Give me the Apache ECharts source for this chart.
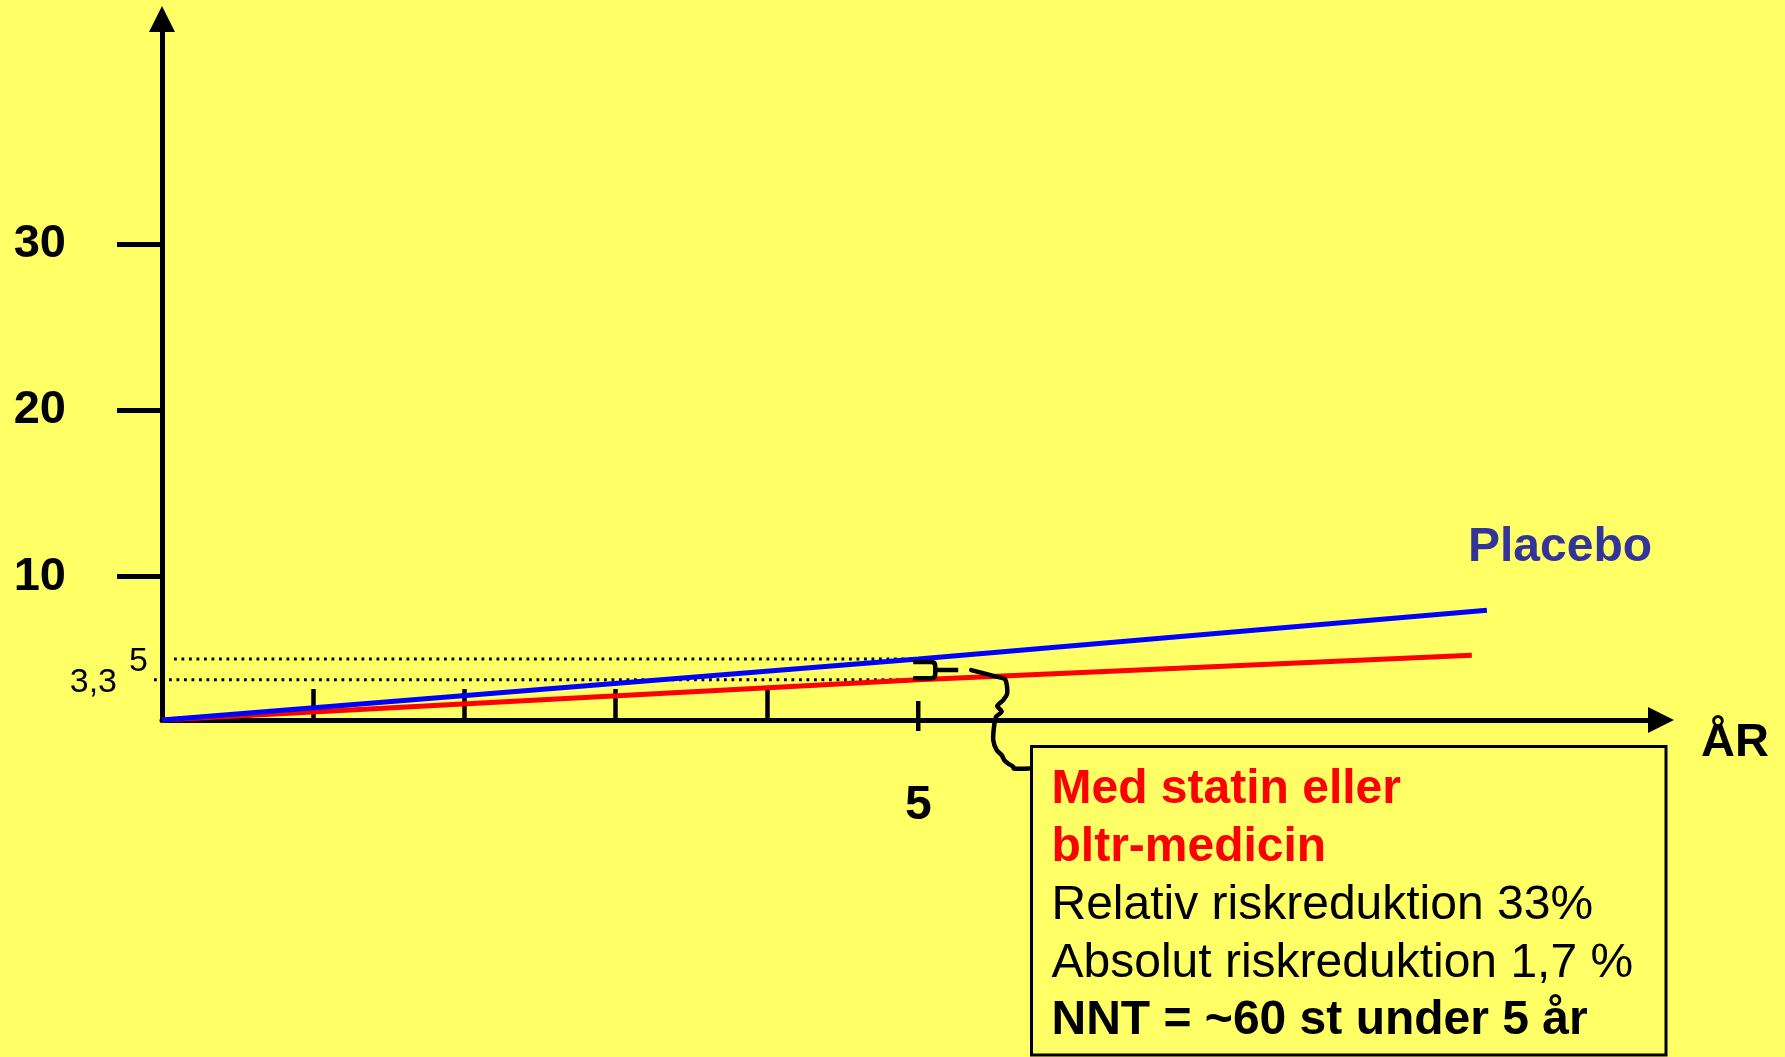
<!DOCTYPE html>
<html>
<head>
<meta charset="utf-8">
<script src="https://cdn.jsdelivr.net/npm/echarts@6/dist/echarts.min.js"></script>
<style>
  html, body { margin: 0; padding: 0; background: #ffff66; }
  #chart { width: 1785px; height: 1057px; }
</style>
</head>
<body>
<div id="chart"></div>
<script>
// Cumulative event risk over the years: placebo vs. treatment
const placeboYears = [0, 5, 8.76];
const placeboRisk = [0, 5, 9.0];
const statinYears = [0, 5, 8.66];
const statinRisk = [0, 3.3, 5.3];

// Axis ticks and labels
const riskTicks = [10, 20, 30];
const yearTicks = [1, 2, 3, 4];
const yearLabels = [5];
const markYear = 5;

const guideValues = [5, 3.3];
const guideLabels = ['5', '3,3'];

// Text of the annotation box
const boxTitle = ['Med statin eller', 'bltr-medicin'];
const boxBody = ['Relativ riskreduktion 33%', 'Absolut riskreduktion 1,7 %'];
const boxResult = 'NNT = ~60 st under 5 år';

const FONT = '"Liberation Sans", Arial, Helvetica, sans-serif';
const BG = '#ffff66';

// Per-guide drawing offsets (pixels)
const guideStyle = [
  { startPad: 12, endPad: 8, labelDx: -14, labelDy: 3 },
  { startPad: -8, endPad: -7, labelDx: -45, labelDy: 3 }
];

const placeboData = placeboYears.map((x, i) => [x, placeboRisk[i]]);
const statinData = statinYears.map((x, i) => [x, statinRisk[i]]);

function renderGuide(params, api) {
  const i = params.dataIndex;
  const v = api.value(1);
  const s = guideStyle[i];
  const start = api.coord([0, v]);
  const end = api.coord([api.value(0), v]);
  return {
    type: 'group',
    children: [
      {
        type: 'line',
        shape: { x1: start[0] + s.startPad, y1: start[1], x2: end[0] + s.endPad, y2: end[1] },
        style: { stroke: '#000', lineWidth: 2.8, lineDash: [2.8, 4.7] }
      },
      {
        type: 'text',
        x: start[0] + s.labelDx,
        y: start[1] + s.labelDy,
        style: {
          text: guideLabels[i], fill: '#000',
          font: '34px ' + FONT, align: 'right', verticalAlign: 'middle'
        }
      }
    ]
  };
}

function renderYearMark(params, api) {
  const p = api.coord([api.value(0), 0]);
  return {
    type: 'line',
    shape: { x1: p[0], y1: p[1] - 19, x2: p[0], y2: p[1] + 11 },
    style: { stroke: '#000', lineWidth: 4.5 }
  };
}

function renderBrace(params, api) {
  const top = api.coord([api.value(0), api.value(1)]);
  const bot = api.coord([api.value(0), api.value(2)]);
  const x0 = top[0] - 5;
  const x1 = top[0] + 17;
  const yt = top[1] + 3;
  const yb = bot[1] - 1.5;
  const ym = (yt + yb) / 2;
  const bx = top[0];
  const wiggle = [
    [53, 0], [78, 6.5], [87, 9.5], [89, 23], [85, 30], [79, 36], [83.5, 41.5],
    [78, 46.5], [76, 55], [75, 70], [78.5, 80], [83.5, 85], [86, 90], [90, 93.5],
    [95, 96.5], [95.5, 98.5], [111, 98.5]
  ].map(d => [bx + d[0], ym + d[1]]);
  return {
    type: 'group',
    children: [
      {
        type: 'path',
        shape: {
          pathData:
            'M' + x0 + ',' + yt + ' L' + (x1 - 4) + ',' + yt +
            ' Q' + x1 + ',' + yt + ' ' + x1 + ',' + (yt + 4) +
            ' L' + x1 + ',' + (yb - 4) +
            ' Q' + x1 + ',' + yb + ' ' + (x1 - 4) + ',' + yb +
            ' L' + x0 + ',' + yb +
            ' M' + x1 + ',' + ym + ' L' + (x1 + 23) + ',' + ym
        },
        style: { stroke: '#000', fill: null, lineWidth: 4.5 }
      },
      {
        type: 'polyline',
        shape: { points: wiggle, smooth: 0.25 },
        style: { stroke: '#000', fill: null, lineWidth: 4.5, lineJoin: 'round', lineCap: 'round' }
      }
    ]
  };
}

const chart = echarts.init(document.getElementById('chart'), null, { renderer: 'canvas' });

const option = {
  backgroundColor: BG,
  animation: false,
  grid: { left: 162, right: 124, top: 19, bottom: 337, containLabel: false },
  xAxis: [{
    type: 'value',
    min: 0,
    max: 9.911,
    axisLine: {
      show: true, onZero: false,
      symbol: ['none', 'triangle'], symbolSize: [26, 26],
      lineStyle: { color: '#000', width: 5 }
    },
    axisTick: {
      show: true, inside: true, length: 31, customValues: yearTicks,
      lineStyle: { color: '#000', width: 4.5 }
    },
    axisLabel: {
      show: true, customValues: yearLabels, margin: 62,
      color: '#000', fontSize: 48, fontWeight: 'bold', fontFamily: FONT
    },
    splitLine: { show: false }
  }],
  yAxis: [{
    // labelled risk scale
    type: 'value',
    min: 1.377,
    max: 43.53,
    axisLine: {
      show: true, onZero: false,
      symbol: ['none', 'triangle'], symbolSize: [26, 26],
      lineStyle: { color: '#000', width: 5 }
    },
    axisTick: {
      show: true, inside: false, length: 45, customValues: riskTicks,
      lineStyle: { color: '#000', width: 5 }
    },
    axisLabel: {
      show: true, customValues: riskTicks, margin: 96,
      color: '#000', fontSize: 47, fontWeight: 'bold', fontFamily: FONT,
      padding: [0, 0, 14, 0]
    },
    splitLine: { show: false }
  }, {
    // scale of the curves
    type: 'value',
    show: false,
    min: 0,
    max: 57.46,
    splitLine: { show: false }
  }],
  series: [
    {
      type: 'custom',
      name: 'guides',
      xAxisIndex: 0, yAxisIndex: 1,
      data: guideValues.map(v => [markYear, v]),
      renderItem: renderGuide,
      z: 1, silent: true
    },
    {
      type: 'custom',
      name: 'yearMark',
      xAxisIndex: 0, yAxisIndex: 1,
      data: [[markYear]],
      renderItem: renderYearMark,
      z: 3, silent: true
    },
    {
      type: 'line',
      name: 'Med statin eller bltr-medicin',
      xAxisIndex: 0, yAxisIndex: 1,
      data: statinData,
      showSymbol: false, symbol: 'none', clip: false,
      lineStyle: { color: '#ff0000', width: 5 },
      z: 4, silent: true
    },
    {
      type: 'line',
      name: 'Placebo',
      xAxisIndex: 0, yAxisIndex: 1,
      data: placeboData,
      showSymbol: false, symbol: 'none', clip: false,
      lineStyle: { color: '#0000ff', width: 5 },
      z: 5, silent: true
    },
    {
      type: 'custom',
      name: 'brace',
      xAxisIndex: 0, yAxisIndex: 1,
      data: [[markYear, guideValues[0], guideValues[1]]],
      renderItem: renderBrace,
      z: 6, silent: true
    }
  ],
  graphic: [
    {
      type: 'text', left: 1468, top: 524,
      style: { text: 'Placebo', fill: '#333399', font: 'bold 48px ' + FONT }
    },
    {
      type: 'text', left: 1701, top: 720,
      style: { text: 'ÅR', fill: '#000', font: 'bold 47px ' + FONT }
    },
    {
      type: 'rect',
      shape: { x: 1031.5, y: 746.5, width: 634.5, height: 308.5 },
      style: { fill: null, stroke: '#000', lineWidth: 3 }
    },
    {
      type: 'group',
      children: [
        ...boxTitle.map((t, i) => ({
          type: 'text', x: 1051.5, y: 789.5 + i * 58,
          style: { text: t, fill: '#ff0000', font: 'bold 48px ' + FONT, verticalAlign: 'middle' }
        })),
        ...boxBody.map((t, i) => ({
          type: 'text', x: 1051.5, y: 906 + i * 57.5,
          style: { text: t, fill: '#000', font: '48px ' + FONT, verticalAlign: 'middle' }
        })),
        {
          type: 'text', x: 1051.5, y: 1021,
          style: { text: boxResult, fill: '#000', font: 'bold 48px ' + FONT, verticalAlign: 'middle' }
        }
      ]
    }
  ]
};

chart.setOption(option);
</script>
</body>
</html>
